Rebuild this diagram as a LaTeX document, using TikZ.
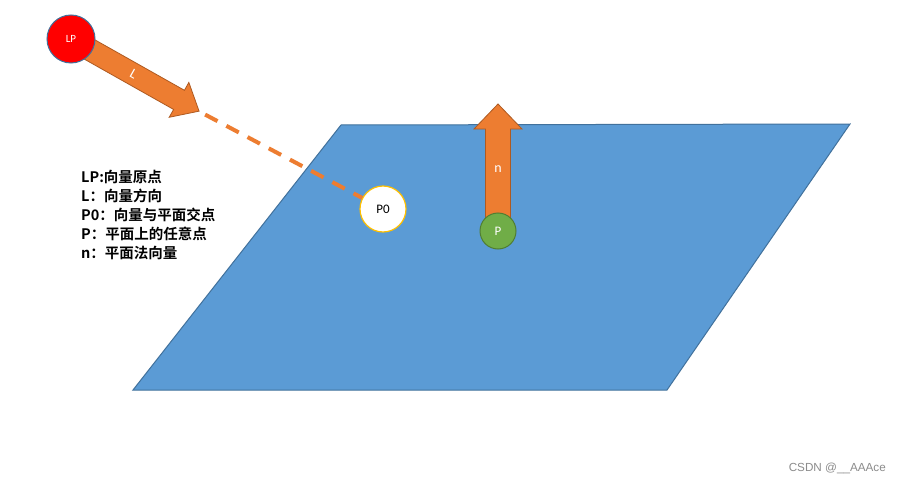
\documentclass[tikz,border=0pt]{standalone}
\usepackage{fontspec}
\setmainfont{Liberation Sans}
\newfontfamily\cjk{Noto Sans CJK SC}[BoldFont={* Bold}]
\newfontfamily\lblfont{Carlito}
\usetikzlibrary{calc}
\definecolor{planeblue}{HTML}{5B9BD5}
\definecolor{planeedge}{HTML}{41719C}
\definecolor{arroworange}{HTML}{ED7D31}
\definecolor{arrowedge}{HTML}{AE5A21}
\definecolor{pgreen}{HTML}{70AD47}
\definecolor{pgreenedge}{HTML}{507E32}
\definecolor{gold}{HTML}{FFC000}
\tikzset{
  blockarrow/.style={fill=arroworange, draw=arrowedge, line width=0.8pt, line join=miter},
  ptcircle/.style={circle, inner sep=0pt},
  legend/.style={anchor=west, inner sep=0pt, font=\cjk\bfseries\fontsize{14.5}{14.5}\selectfont},
  dashline/.style={draw=arroworange, line width=4pt, dash pattern=on 14pt off 10pt},
}
\begin{document}
\begin{tikzpicture}[x=1pt,y=-1pt]
\useasboundingbox[fill=white] (0,0) rectangle (901,484);
% plane
\coordinate (A) at (341,125);
\coordinate (B) at (850,124);
\coordinate (C) at (667,390);
\coordinate (D) at (133,390);
\fill[planeblue, draw=planeedge, line width=1pt] (A) -- (B) -- (C) -- (D) -- cycle;

% LP node and L arrow
\coordinate (LPc) at (71,39);
\def\ang{29.4}
\def\pang{119.4}
\draw[blockarrow]
  ($(LPc)+(\ang:10)+(\pang:11)$) --
  ($(LPc)+(\ang:124)+(\pang:11)$) --
  ($(LPc)+(\ang:124)+(\pang:20)$) --
  ($(LPc)+(\ang:147)$) coordinate (Ltip) --
  ($(LPc)+(\ang:124)+(\pang:-20)$) --
  ($(LPc)+(\ang:124)+(\pang:-11)$) --
  ($(LPc)+(\ang:10)+(\pang:-11)$) -- cycle;
\node[text=white, rotate=-\ang, font=\lblfont\fontsize{14}{14}\selectfont] (Llbl) at ($(LPc)+(\ang:72)$) {L};
\node[ptcircle, minimum size=48pt, fill=red, draw=planeedge, line width=1pt, text=white, font=\lblfont\fontsize{11}{11}\selectfont] (LP) at (LPc) {LP};

% P0 and dashed line
\node[ptcircle, minimum size=46pt, fill=white, draw=gold, line width=1.2pt, text=black, font=\lblfont\fontsize{13}{13}\selectfont] (P0) at (383,209) {P0};
\coordinate (Dstart) at ($(Ltip)+(\ang:7)$);
\draw[dashline] (Dstart) -- (P0);

% n arrow and P
\coordinate (Pc) at (498,231);
\draw[blockarrow]
  (485.5,231) -- (485.5,129) -- (474,129) -- (498,104) coordinate (ntip) -- (522,129) -- (510.5,129) -- (510.5,231) -- cycle;
\node[text=white, font=\lblfont\fontsize{14}{14}\selectfont] (nlbl) at (498,169) {n};
\node[ptcircle, minimum size=36pt, fill=pgreen, draw=pgreenedge, line width=1pt, text=white, font=\lblfont\fontsize{13}{13}\selectfont] (P) at (Pc) {P};

% legend
\node[legend] (t1) at (81,177) {LP:向量原点};
\node[legend] (t2) at (81,196) {L：向量方向};
\node[legend] (t3) at (81,215) {P0：向量与平面交点};
\node[legend] (t4) at (81,234) {P：平面上的任意点};
\node[legend] (t5) at (81,253) {n：平面法向量};

% watermark
\node[anchor=east, inner sep=0pt, text=black!45, font=\fontsize{11.7}{11.7}\selectfont] (wm) at (886,468) {CSDN @\_\_AAAce};
\end{tikzpicture}
\end{document}
